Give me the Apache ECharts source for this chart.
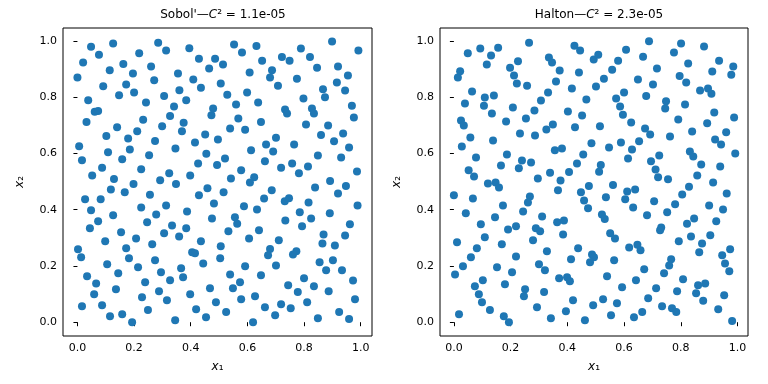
<!DOCTYPE html>
<html>
<head>
<meta charset="utf-8">
<script src="https://cdn.jsdelivr.net/npm/echarts@6/dist/echarts.min.js"></script>
<style>
  html, body { margin: 0; padding: 0; background: #fff; }
  #chart { width: 768px; height: 384px; }
</style>
</head>
<body>
<div id="chart"></div>
<script>
// 样本点 (x1, x2)
const sobolPoints = [
  [0.000,0.870],[0.020,0.923],[0.048,0.979],[0.076,0.951],[0.126,0.991],[0.114,0.896],[0.091,0.839],[0.162,0.918],[0.196,0.884],[0.218,0.956],
  [0.172,0.845],[0.147,0.807],[0.200,0.817],[0.260,0.909],[0.271,0.860],[0.285,0.994],[0.313,0.966],[0.355,0.884],[0.306,0.804],[0.242,0.781],
  [0.038,0.789],[0.061,0.748],[0.073,0.751],[0.032,0.712],[0.140,0.693],[0.102,0.662],[0.179,0.653],[0.211,0.679],[0.232,0.720],[0.185,0.614],
  [0.108,0.604],[0.006,0.626],[0.016,0.576],[0.158,0.579],[0.052,0.522],[0.087,0.549],[0.129,0.509],[0.253,0.594],[0.274,0.644],[0.299,0.697],
  [0.327,0.733],[0.341,0.767],[0.375,0.709],[0.369,0.679],[0.346,0.618],[0.360,0.825],[0.384,0.789],[0.395,0.974],[0.429,0.937],[0.409,0.863],
  [0.436,0.834],[0.465,0.902],[0.473,0.736],[0.479,0.760],[0.451,0.667],[0.415,0.639],[0.455,0.599],[0.426,0.564],[0.225,0.544],[0.324,0.530],[0.398,0.522],
  [0.486,0.937],[0.514,0.916],[0.553,0.987],[0.581,0.959],[0.632,0.982],[0.652,0.930],[0.608,0.888],[0.506,0.849],[0.529,0.809],[0.599,0.817],
  [0.687,0.896],[0.680,0.870],[0.708,0.841],[0.722,0.943],[0.749,0.930],[0.789,0.973],[0.821,0.943],[0.846,0.905],[0.775,0.866],[0.899,0.998],
  [0.992,0.966],[0.920,0.909],[0.955,0.877],[0.916,0.852],[0.867,0.828],[0.874,0.800],[0.945,0.824],[0.798,0.795],[0.638,0.781],[0.560,0.774],
  [0.733,0.756],[0.740,0.742],[0.828,0.760],[0.835,0.742],[0.969,0.770],[0.976,0.728],[0.568,0.724],[0.648,0.712],[0.807,0.703],[0.885,0.699],
  [0.539,0.689],[0.592,0.684],[0.860,0.666],[0.938,0.671],[0.701,0.656],[0.496,0.650],[0.666,0.632],[0.765,0.632],[0.906,0.643],[0.613,0.611],
  [0.691,0.607],[0.959,0.621],[0.849,0.593],[0.931,0.586],[0.521,0.582],[0.493,0.559],[0.662,0.572],[0.758,0.564],[0.719,0.549],[0.814,0.554],
  [0.578,0.540],[0.782,0.530],[0.987,0.536],[0.542,0.511],[0.624,0.515],
  [0.292,0.505],[0.348,0.491],[0.198,0.491],[0.459,0.476],[0.167,0.462],[0.118,0.472],[0.256,0.453],[0.429,0.451],[0.027,0.437],[0.082,0.437],
  [0.482,0.422],[0.225,0.408],[0.313,0.415],[0.048,0.398],[0.126,0.380],[0.278,0.383],[0.387,0.394],[0.475,0.369],[0.073,0.359],[0.246,0.355],
  [0.334,0.344],[0.044,0.334],[0.384,0.334],[0.154,0.320],[0.306,0.316],[0.359,0.305],[0.207,0.298],[0.098,0.288],[0.436,0.288],[0.264,0.277],
  [0.172,0.263],[0.002,0.259],[0.405,0.249],[0.415,0.245],[0.013,0.231],[0.182,0.227],[0.274,0.220],[0.444,0.209],[0.105,0.206],[0.214,0.195],
  [0.366,0.192],[0.295,0.178],[0.144,0.174],[0.034,0.163],[0.373,0.160],[0.327,0.149],[0.239,0.142],[0.066,0.138],[0.136,0.117],[0.468,0.121],
  [0.288,0.110],[0.059,0.099],[0.398,0.099],[0.228,0.089],[0.316,0.078],[0.016,0.057],[0.087,0.060],[0.419,0.046],[0.249,0.043],[0.115,0.021],
  [0.158,0.028],[0.454,0.018],[0.345,0.007],[0.193,0.000],
  [0.609,0.497],[0.892,0.502],[0.839,0.479],[0.948,0.484],[0.686,0.469],[0.516,0.462],[0.920,0.458],[0.659,0.440],[0.732,0.430],[0.747,0.441],
  [0.816,0.426],[0.989,0.415],[0.588,0.412],[0.634,0.401],[0.785,0.391],[0.891,0.387],[0.556,0.373],[0.734,0.362],[0.825,0.369],[0.564,0.350],
  [0.962,0.348],[0.793,0.341],[0.641,0.327],[0.533,0.323],[0.869,0.312],[0.945,0.308],[0.606,0.298],[0.711,0.291],[0.865,0.280],[0.909,0.273],
  [0.506,0.270],[0.680,0.260],[0.673,0.238],[0.773,0.252],[0.761,0.241],[0.504,0.227],[0.855,0.213],[0.902,0.220],[0.701,0.202],[0.592,0.199],
  [0.878,0.185],[0.934,0.185],[0.539,0.170],[0.648,0.167],[0.800,0.156],[0.973,0.148],[0.574,0.142],[0.744,0.131],[0.835,0.128],[0.549,0.121],
  [0.778,0.107],[0.887,0.110],[0.627,0.092],[0.578,0.082],[0.489,0.071],[0.980,0.082],[0.811,0.071],[0.719,0.064],[0.662,0.053],[0.753,0.050],
  [0.525,0.036],[0.924,0.036],[0.698,0.025],[0.849,0.014],[0.959,0.011],[0.620,0.000]
];

const haltonPoints = [
  [0.014,0.870],[0.022,0.892],[0.049,0.956],[0.093,0.973],[0.131,0.948],[0.116,0.916],[0.156,0.976],[0.064,0.820],[0.039,0.778],[0.109,0.799],
  [0.141,0.806],[0.106,0.770],[0.134,0.742],[0.198,0.905],[0.212,0.877],[0.226,0.928],[0.222,0.849],[0.258,0.841],[0.265,0.994],[0.208,0.763],
  [0.184,0.714],[0.025,0.717],[0.035,0.699],[0.058,0.657],[0.028,0.625],[0.138,0.646],[0.078,0.586],[0.052,0.540],[0.071,0.518],[0.187,0.596],
  [0.166,0.557],[0.229,0.547],[0.240,0.575],[0.272,0.568],[0.233,0.671],[0.254,0.724],[0.284,0.753],[0.286,0.664],[0.307,0.788],[0.332,0.817],
  [0.360,0.856],[0.373,0.895],[0.335,0.941],[0.346,0.923],[0.326,0.685],[0.349,0.703],[0.402,0.749],[0.416,0.831],[0.425,0.983],[0.445,0.966],
  [0.441,0.888],[0.467,0.792],[0.452,0.735],[0.427,0.693],[0.356,0.611],[0.381,0.618],[0.456,0.596],[0.434,0.564],[0.406,0.534],[0.339,0.531],
  [0.485,0.636],[0.493,0.934],[0.296,0.511],
  [0.509,0.951],[0.501,0.838],[0.515,0.697],[0.518,0.559],[0.512,0.535],[0.529,0.866],[0.558,0.898],[0.579,0.930],[0.607,0.969],[0.688,0.999],
  [0.667,0.944],[0.716,0.902],[0.649,0.863],[0.702,0.845],[0.678,0.804],[0.600,0.817],[0.572,0.795],[0.586,0.767],[0.596,0.738],[0.625,0.710],
  [0.748,0.786],[0.745,0.760],[0.815,0.774],[0.791,0.721],[0.674,0.689],[0.692,0.667],[0.653,0.643],[0.589,0.639],[0.547,0.621],[0.628,0.614],
  [0.614,0.582],[0.762,0.660],[0.840,0.678],[0.832,0.607],[0.844,0.589],[0.724,0.593],[0.695,0.572],[0.711,0.543],[0.720,0.515],[0.755,0.508],
  [0.776,0.959],[0.801,0.991],[0.882,0.980],[0.826,0.920],[0.796,0.875],[0.819,0.852],[0.868,0.824],[0.896,0.831],[0.908,0.812],[0.911,0.891],
  [0.935,0.930],[0.985,0.909],[0.978,0.880],[0.918,0.746],[0.893,0.707],[0.988,0.728],[0.960,0.675],[0.921,0.650],[0.942,0.632],[0.992,0.600],
  [0.872,0.561],[0.939,0.554],[0.858,0.522],
  [0.376,0.504],[0.120,0.493],[0.147,0.497],[0.159,0.479],[0.476,0.484],[0.000,0.451],[0.067,0.440],[0.268,0.447],[0.261,0.426],[0.367,0.469],
  [0.448,0.462],[0.459,0.433],[0.473,0.405],[0.173,0.415],[0.244,0.394],[0.042,0.387],[0.095,0.348],[0.145,0.373],[0.219,0.341],[0.191,0.330],
  [0.289,0.334],[0.304,0.323],[0.311,0.376],[0.364,0.355],[0.388,0.362],[0.385,0.312],[0.011,0.284],[0.109,0.302],[0.279,0.291],[0.169,0.277],
  [0.081,0.263],[0.328,0.252],[0.060,0.231],[0.219,0.234],[0.438,0.263],[0.487,0.241],[0.494,0.231],[0.413,0.224],[0.480,0.213],[0.032,0.199],
  [0.152,0.195],[0.300,0.206],[0.321,0.185],[0.205,0.178],[0.004,0.170],[0.371,0.156],[0.399,0.160],[0.409,0.146],[0.102,0.149],[0.074,0.128],
  [0.180,0.135],[0.251,0.117],[0.247,0.092],[0.318,0.107],[0.088,0.099],[0.099,0.071],[0.420,0.078],[0.491,0.060],[0.018,0.028],[0.127,0.043],
  [0.293,0.053],[0.395,0.039],[0.176,0.021],[0.194,0.000],[0.342,0.014],[0.462,0.007],
  [0.914,0.497],[0.829,0.482],[0.561,0.488],[0.962,0.458],[0.611,0.465],[0.639,0.472],[0.604,0.437],[0.632,0.408],[0.536,0.444],[0.805,0.454],
  [0.706,0.430],[0.780,0.419],[0.900,0.415],[0.949,0.401],[0.752,0.391],[0.681,0.380],[0.522,0.383],[0.532,0.367],[0.847,0.369],[0.822,0.350],
  [0.925,0.359],[0.731,0.337],[0.727,0.327],[0.551,0.316],[0.568,0.298],[0.836,0.305],[0.904,0.309],[0.793,0.288],[0.875,0.280],[0.618,0.266],
  [0.647,0.275],[0.658,0.256],[0.974,0.259],[0.865,0.249],[0.946,0.238],[0.565,0.220],[0.766,0.224],[0.759,0.202],[0.956,0.209],[0.671,0.188],
  [0.971,0.181],[0.741,0.174],[0.540,0.163],[0.808,0.153],[0.642,0.149],[0.861,0.131],[0.886,0.138],[0.854,0.103],[0.593,0.124],[0.713,0.121],
  [0.787,0.110],[0.953,0.096],[0.685,0.085],[0.526,0.082],[0.879,0.076],[0.575,0.067],[0.734,0.057],[0.769,0.050],[0.784,0.036],[0.932,0.046],
  [0.664,0.036],[0.554,0.025],[0.635,0.018],[0.981,0.004]
];

const tickValues = [0, 0.2, 0.4, 0.6, 0.8, 1.0];
const titles = [["Sobol'—", '1.1e-05'], ['Halton—', '2.3e-05']];

const FONT = 'DejaVu Sans';
const chart = echarts.init(document.getElementById('chart'));

// 坐标轴
const makeX = (idx, min, max) => ({
  type: 'value', gridIndex: idx, min: min, max: max,
  splitLine: { show: false },
  axisLine: { show: false },
  axisTick: { show: true, inside: false, length: 4, customValues: tickValues, lineStyle: { color: '#000' } },
  axisLabel: { customValues: tickValues, margin: 7, color: '#000', fontFamily: FONT, fontSize: 11,
    formatter: v => v.toFixed(1) },
  name: '{i|x}{n|₁}', nameLocation: 'middle', nameGap: 25,
  nameTextStyle: { rich: { i: { fontStyle: 'italic', fontFamily: FONT, fontSize: 12, color: '#000' },
                           n: { fontFamily: FONT, fontSize: 12, color: '#000' } } }
});
const makeY = (idx) => ({
  type: 'value', gridIndex: idx, min: -0.049, max: 1.046,
  splitLine: { show: false },
  axisLine: { show: false },
  axisTick: { show: true, inside: false, length: 4, customValues: tickValues, lineStyle: { color: '#000' } },
  axisLabel: { customValues: tickValues, margin: 6, color: '#000', fontFamily: FONT, fontSize: 11,
    formatter: v => v.toFixed(1) },
  name: '{i|x}{n|₂}', nameLocation: 'middle', nameGap: 37, nameRotate: 90,
  nameTextStyle: { rich: { i: { fontStyle: 'italic', fontFamily: FONT, fontSize: 12, color: '#000' },
                           n: { fontFamily: FONT, fontSize: 12, color: '#000' } } }
});

const makeTitle = (t, left) => ({
  text: '{n|' + t[0] + '}{i|C}{n|² = ' + t[1] + '}',
  left: left, top: 4, textAlign: 'center',
  textStyle: { fontWeight: 'normal', rich: {
    n: { fontFamily: FONT, fontSize: 12, fontWeight: 'normal', color: '#000' },
    i: { fontFamily: FONT, fontSize: 12, fontWeight: 'normal', fontStyle: 'italic', color: '#000' }
  } }
});

chart.setOption({
  animation: false,
  title: [makeTitle(titles[0], 218), makeTitle(titles[1], 594)],
  grid: [
    { left: 63, top: 28, width: 309, height: 308, show: true, borderColor: '#000', borderWidth: 1 },
    { left: 440, top: 28, width: 308, height: 308, show: true, borderColor: '#000', borderWidth: 1 }
  ],
  xAxis: [makeX(0, -0.051, 1.040), makeX(1, -0.049, 1.037)],
  yAxis: [makeY(0), makeY(1)],
  series: [
    { type: 'scatter', xAxisIndex: 0, yAxisIndex: 0, data: sobolPoints, symbolSize: 8,
      itemStyle: { color: '#1f77b4', opacity: 1 } },
    { type: 'scatter', xAxisIndex: 1, yAxisIndex: 1, data: haltonPoints, symbolSize: 8,
      itemStyle: { color: '#1f77b4', opacity: 1 } }
  ]
});
</script>
</body>
</html>
